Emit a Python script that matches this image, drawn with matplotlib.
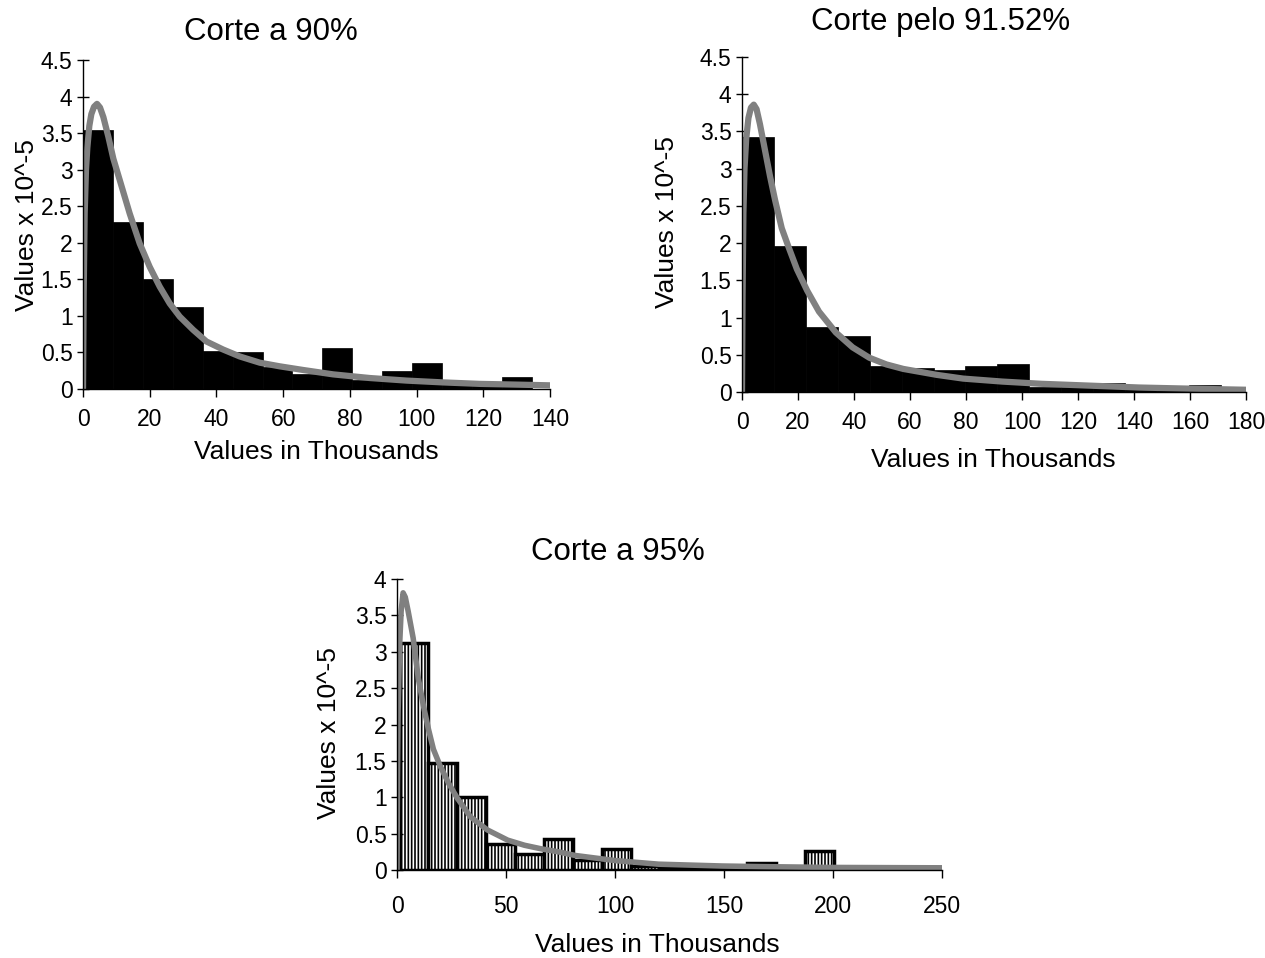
import matplotlib
matplotlib.use('Agg')
import matplotlib.pyplot as plt
from matplotlib.ticker import FormatStrFormatter, MultipleLocator

plt.rcParams['font.family'] = ['Liberation Sans', 'DejaVu Sans']
plt.rcParams['hatch.linewidth'] = 1.2

# Corte a 90%
bins_90 = [0, 8.97, 17.94, 26.91, 35.88, 44.85, 53.82, 62.79, 71.76, 80.73,
           89.7, 98.67, 107.64, 116.61, 125.58]
width_90 = 8.97
hist_90 = [3.54, 2.28, 1.51, 1.12, 0.52, 0.51, 0.30, 0.20, 0.56, 0.12,
           0.24, 0.35, 0.08, 0.07, 0.17]
fit_x_90 = [0, 0.2, 0.5, 0.9, 1.3, 1.9, 2.5, 3.3, 4.2, 5.1, 6.1, 7.6, 9.1, 11,
            14, 17, 20, 23, 26, 29, 33, 37, 42, 47, 53, 59, 66, 75, 86, 97,
            108, 119, 130, 140]
fit_y_90 = [0, 1.3, 2.4, 3.0, 3.3, 3.6, 3.76, 3.86, 3.9, 3.85, 3.72, 3.45, 3.15,
            2.86, 2.40, 1.99, 1.67, 1.40, 1.17, 0.99, 0.81, 0.65, 0.54, 0.445,
            0.36, 0.31, 0.26, 0.2, 0.15, 0.115, 0.09, 0.07, 0.06, 0.05]

# Corte pelo 91.52%
bins_915 = [0, 11.4, 22.8, 34.2, 45.6, 57.0, 68.4, 79.8, 91.2, 102.6,
            114.0, 125.4, 136.8, 148.2, 159.6]
width_915 = 11.4
hist_915 = [3.42, 1.955, 0.87, 0.75, 0.345, 0.32, 0.29, 0.345, 0.38, 0.07,
            0.07, 0.12, 0.05, 0.05, 0.10]
fit_x_915 = [0, 0.2, 0.5, 0.9, 1.5, 2.3, 3.2, 4.2, 5.2, 6.4, 8.2, 10, 11.8,
             14.2, 16.6, 19.6, 23.3, 27.5, 33.5, 39.5, 45.5, 51.6, 57.6, 69.6,
             79, 93, 107, 121, 142, 160, 180]
fit_y_915 = [0, 1.3, 2.4, 3.0, 3.4, 3.68, 3.82, 3.86, 3.8, 3.6, 3.25, 2.9,
             2.58, 2.2, 1.95, 1.65, 1.36, 1.08, 0.8, 0.6, 0.46, 0.37, 0.31,
             0.23, 0.18, 0.14, 0.11, 0.09, 0.06, 0.045, 0.03]

# Corte a 95%
bins_95 = [1.1, 14.4, 27.7, 41.0, 54.3, 67.6, 80.9, 94.2, 107.5, 120.8,
           134.1, 147.4, 160.7, 174.0, 187.3]
width_95 = 13.3
hist_95 = [3.12, 1.47, 1.00, 0.36, 0.22, 0.42, 0.14, 0.285, 0.06, 0.035,
           0.03, 0.02, 0.09, 0.0, 0.26]
fit_x_95 = [0, 0.2, 0.5, 1.2, 1.9, 2.8, 3.8, 5.1, 7.4, 9.8, 12.1, 14.4, 16.7,
            19.8, 23.7, 27.6, 33.7, 41.5, 50.8, 58.5, 66.3, 74, 81.7, 89.5, 100,
            120, 149, 168, 200, 250]
fit_y_95 = [0, 1.2, 2.17, 3.09, 3.56, 3.81, 3.75, 3.56, 3.19, 2.63, 2.26, 1.94,
            1.66, 1.43, 1.19, 0.99, 0.73, 0.55, 0.41, 0.34, 0.29, 0.25, 0.2,
            0.17, 0.13, 0.08, 0.055, 0.046, 0.035, 0.03]

W, H = 1265, 958
fig = plt.figure(figsize=(W / 100, H / 100), dpi=100)


def box(x0, x1, ytop, ybot):
    return [x0 / W, 1 - ybot / H, (x1 - x0) / W, (ybot - ytop) / H]


def style(ax, xmax, xstep, ymax):
    ax.set_xlim(0, xmax)
    ax.set_ylim(0, ymax)
    ax.xaxis.set_major_locator(MultipleLocator(xstep))
    ax.yaxis.set_major_locator(MultipleLocator(0.5))
    ax.yaxis.set_major_formatter(FormatStrFormatter('%g'))
    ax.xaxis.set_major_formatter(FormatStrFormatter('%g'))
    for s in ['top', 'right']:
        ax.spines[s].set_visible(False)
    for s in ['left', 'bottom']:
        ax.spines[s].set_linewidth(1)
    ax.tick_params(axis='y', direction='inout', length=9, width=1,
                   labelsize=16.5, pad=3)
    ax.tick_params(axis='x', direction='out', length=6, width=1,
                   labelsize=16.5, pad=8)


ax1 = fig.add_axes(box(83, 550, 60, 389))
ax1.bar(bins_90, hist_90, width=width_90, align='edge', color='black',
        edgecolor='black', linewidth=0.5)
ax1.plot(fit_x_90, fit_y_90, color='#808080', lw=4.5, solid_capstyle='round',
         solid_joinstyle='round')
style(ax1, 140, 20, 4.5)

ax2 = fig.add_axes(box(742, 1246, 57, 392))
ax2.bar(bins_915, hist_915, width=width_915, align='edge', color='black',
        edgecolor='black', linewidth=0.5)
ax2.plot(fit_x_915, fit_y_915, color='#808080', lw=4.5, solid_capstyle='round',
         solid_joinstyle='round')
style(ax2, 180, 20, 4.5)

ax3 = fig.add_axes(box(397, 942, 579, 870))
ax3.bar(bins_95, hist_95, width=width_95, align='edge', color='white',
        edgecolor='black', linewidth=2.5, hatch='|||||')
ax3.plot(fit_x_95, fit_y_95, color='#808080', lw=4, solid_capstyle='round',
         solid_joinstyle='round')
style(ax3, 250, 50, 4)
ax3.tick_params(axis='x', pad=12)

# titles and axis labels
fig.text(271 / W, 1 - 32 / H, 'Corte a 90%', ha='center', va='center', fontsize=22.5)
fig.text(941 / W, 1 - 22 / H, 'Corte pelo 91.52%', ha='center', va='center', fontsize=22.5)
fig.text(618 / W, 1 - 552 / H, 'Corte a 95%', ha='center', va='center', fontsize=22.5)

fig.text(316 / W, 1 - 452 / H, 'Values in Thousands', ha='center', va='center', fontsize=19)
fig.text(993 / W, 1 - 460 / H, 'Values in Thousands', ha='center', va='center', fontsize=19)
fig.text(657 / W, 1 - 945 / H, 'Values in Thousands', ha='center', va='center', fontsize=19)

fig.text(27 / W, 1 - 225 / H, 'Values x 10^-5', ha='center', va='center',
         rotation=90, fontsize=19)
fig.text(667 / W, 1 - 222 / H, 'Values x 10^-5', ha='center', va='center',
         rotation=90, fontsize=19)
fig.text(329 / W, 1 - 733 / H, 'Values x 10^-5', ha='center', va='center',
         rotation=90, fontsize=19)

fig.savefig('out.png', dpi=100, facecolor='white')
